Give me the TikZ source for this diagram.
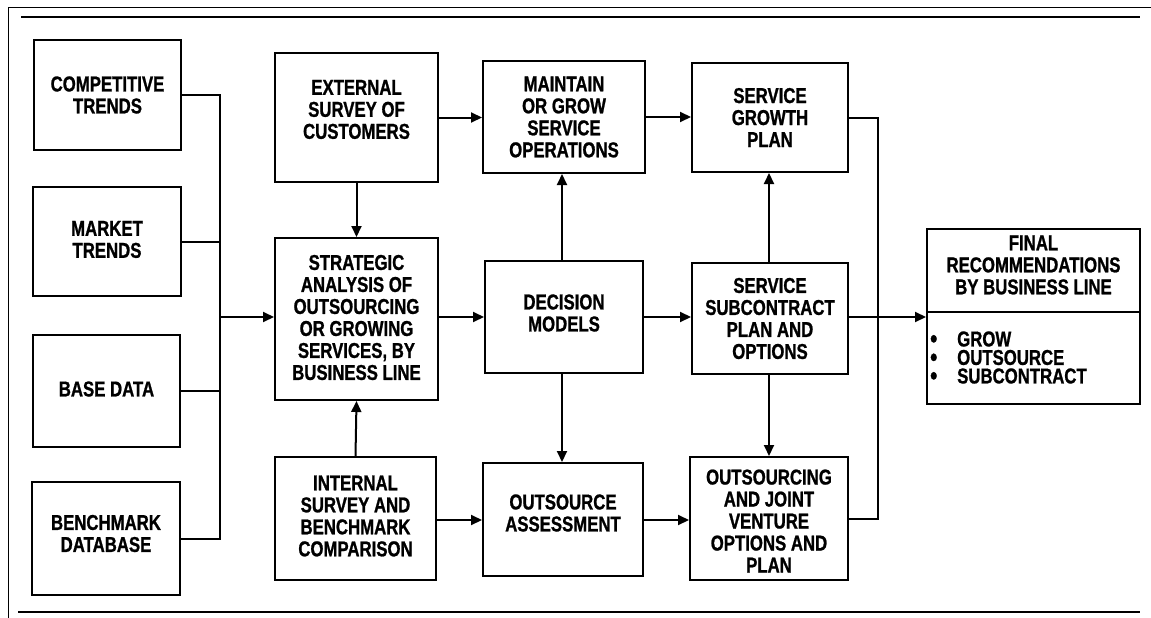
\documentclass[tikz,border=0pt]{standalone}
\usepackage{fontspec}
\newfontfamily\lab{Liberation Sans}[FakeStretch=0.78, FakeBold=1]
\usetikzlibrary{arrows.meta}
\newcommand\bul{\makebox[27pt][l]{\smash{\raisebox{-1pt}{\fontsize{26pt}{26pt}\selectfont •}}}}
\begin{document}
\begin{tikzpicture}[x=1pt,y=-1pt,
  txt/.style={align=center, inner sep=0pt, font={\lab\bfseries\fontsize{21.5pt}{22pt}\selectfont}},
  every label/.style={txt},
  box/.style={draw, line width=2pt, inner sep=0pt},
  con/.style={line width=2pt},
  arr/.style={line width=2pt, -{Triangle[length=11pt,width=10pt]}}]
\useasboundingbox (0,0) rectangle (1151,618);
% frame
\draw[line width=1pt] (8,618) -- (8,8) -- (1151,8);
\draw[line width=2pt] (21,17) -- (1140,17);
\draw[line width=1.5pt] (18,612) -- (1140,612);
% left column
\node[box, minimum width=147pt, minimum height=110pt, label={center:{COMPETITIVE\\TRENDS}}] (comp) at (107.5,95) {};
\node[box, minimum width=148pt, minimum height=109pt, label={[yshift=2pt]center:{MARKET\\TRENDS}}] (mkt) at (107,241.5) {};
\node[box, minimum width=147pt, minimum height=112pt, label={[yshift=2pt]center:{BASE DATA}}] (base) at (106.5,391) {};
\node[box, minimum width=148pt, minimum height=113pt, label={[yshift=5pt]center:{BENCHMARK\\DATABASE}}] (bench) at (106,538.5) {};
% column 2
\node[box, minimum width=163pt, minimum height=129pt, label={[yshift=8pt]center:{EXTERNAL\\SURVEY OF\\CUSTOMERS}}] (ext) at (356.5,117.5) {};
\node[box, minimum width=163pt, minimum height=162pt, label={[yshift=1.5pt]center:{STRATEGIC\\ANALYSIS OF\\OUTSOURCING\\OR GROWING\\SERVICES, BY\\BUSINESS LINE}}] (strat) at (356.5,319) {};
\node[box, minimum width=161pt, minimum height=123pt, label={[yshift=2.5pt]center:{INTERNAL\\SURVEY AND\\BENCHMARK\\COMPARISON}}] (int) at (355.5,518.5) {};
% column 3
\node[box, minimum width=162pt, minimum height=112pt, label={center:{MAINTAIN\\OR GROW\\SERVICE\\OPERATIONS}}] (maint) at (564,117) {};
\node[box, minimum width=158pt, minimum height=112pt, label={[yshift=4pt]center:{DECISION\\MODELS}}] (dec) at (564,317) {};
\node[box, minimum width=160pt, minimum height=113pt, label={[yshift=6.5pt]center:{OUTSOURCE\\ASSESSMENT}}] (outa) at (563,519.5) {};
% column 4
\node[box, minimum width=156pt, minimum height=109pt, label={center:{SERVICE\\GROWTH\\PLAN}}] (grow) at (770,117.5) {};
\node[box, minimum width=156pt, minimum height=111pt, label={center:{SERVICE\\SUBCONTRACT\\PLAN AND\\OPTIONS}}] (sub) at (770,318.5) {};
\node[box, minimum width=158pt, minimum height=123pt, label={[yshift=-2.5pt]center:{OUTSOURCING\\AND JOINT\\VENTURE\\OPTIONS AND\\PLAN}}] (ojv) at (769,518.5) {};
% final box
\node[box, minimum width=213pt, minimum height=175pt] (final) at (1033.5,316.5) {};
\draw[line width=2pt] (final.west |- 0,312) -- (final.east |- 0,312);
\node[txt] (ftop) at (1033.5,265) {FINAL\\RECOMMENDATIONS\\BY BUSINESS LINE};
\node[txt, align=left, anchor=west, font={\lab\bfseries\fontsize{21.5pt}{18.5pt}\selectfont}] (flist) at (930,357.5)
  {\bul GROW\\\bul OUTSOURCE\\\bul SUBCONTRACT};
% left bus
\coordinate (lbt) at (220,95);
\coordinate (lbb) at (220,538.5);
\coordinate (lbm) at (220,317);
\draw[con] (comp.east) -- (lbt) -- (lbb) -- (bench.east);
\draw[con] (mkt.east) -- (mkt.east -| lbt);
\draw[con] (base.east) -- (base.east -| lbt);
\draw[arr] (lbm) -- (lbm -| strat.west);
% column 2 arrows
\draw[arr] (ext.south) -- (strat.north);
\draw[arr] (int.north) -- (strat.south);
\draw[arr] (ext.east) -- (ext.east -| maint.west);
\draw[arr] (strat.west |- 0,317) ++(163,0) -- (dec.west);
\draw[arr] (int.east |- 0,520) -- (outa.west |- 0,520);
% column 3 arrows
\draw[arr] (dec.north -| 562,0) -- (maint.south -| 562,0);
\draw[arr] (dec.south -| 562,0) -- (outa.north -| 562,0);
\draw[arr] (maint.east) -- (maint.east -| grow.west);
\draw[arr] (dec.east) -- (dec.east -| sub.west);
\draw[arr] (outa.east |- 0,520) -- (ojv.west |- 0,520);
% column 4 arrows
\draw[arr] (sub.north -| 769,0) -- (grow.south -| 769,0);
\draw[arr] (sub.south -| 769,0) -- (ojv.north -| 769,0);
% right bus
\coordinate (rbt) at (878,117.5);
\coordinate (rbb) at (878,518.5);
\draw[con] (grow.east) -- (rbt) -- (rbb) -- (ojv.east);
\draw[arr] (sub.east |- 0,317) -- (final.west |- 0,317);
\end{tikzpicture}
\end{document}
